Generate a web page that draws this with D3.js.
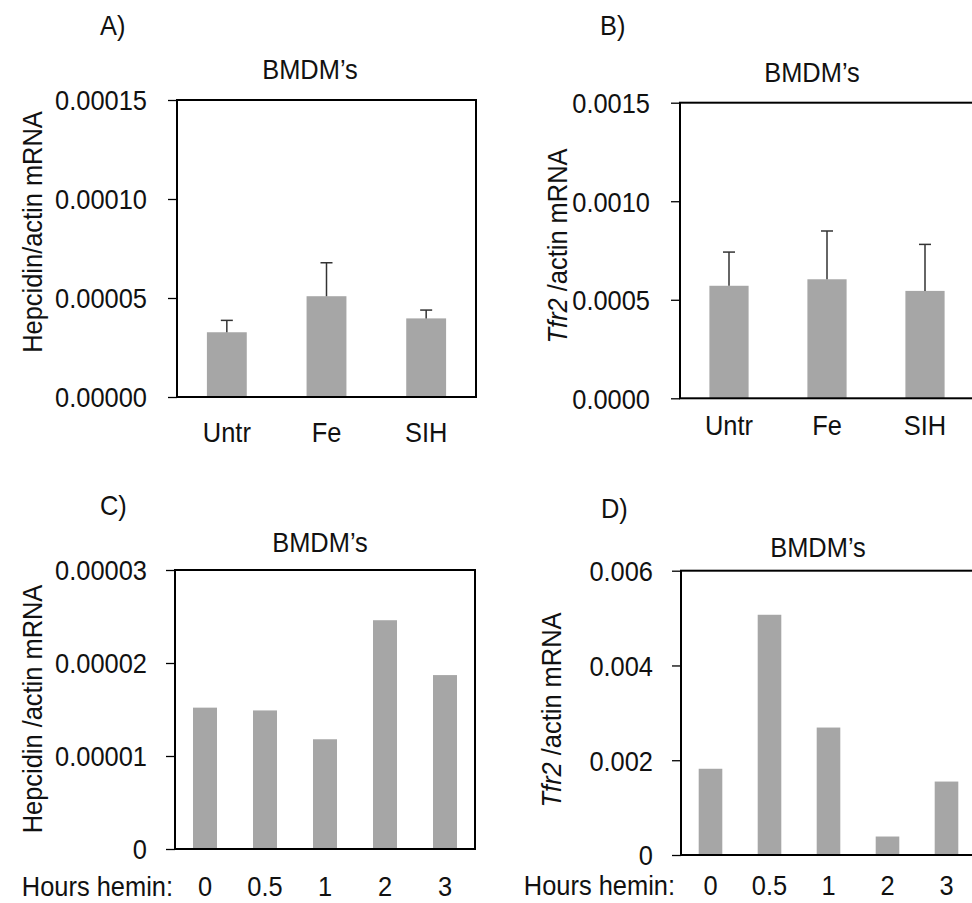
<!DOCTYPE html>
<html>
<head>
<meta charset="utf-8">
<script src="https://cdn.jsdelivr.net/npm/d3@7"></script>
<style>
  body { margin: 0; background: #fff; }
  svg { display: block; font-family: "Liberation Sans", Arial, sans-serif; }
  text { fill: #111; }
</style>
</head>
<body>
<svg id="fig" width="972" height="903"></svg>
<script>
// treatment panels (A, B)
const treatments = ["Untr", "Fe", "SIH"];
const hepcidinTreat = [0.0000327, 0.0000509, 0.0000397];
const hepcidinTreatErr = [0.0000060, 0.0000169, 0.0000042];
const tfr2Treat = [0.000571, 0.000604, 0.000545];
const tfr2TreatErr = [0.000171, 0.000245, 0.000236];

// hemin time course panels (C, D)
const hours = ["0", "0.5", "1", "2", "3"];
const hepcidinHemin = [0.0000152, 0.0000149, 0.0000118, 0.0000246, 0.0000187];
const tfr2Hemin = [0.00182, 0.00507, 0.00269, 0.00039, 0.00155];

// y tick values and labels
const ticksA = [0, 0.00005, 0.0001, 0.00015];
const tickLabelsA = ["0.00000", "0.00005", "0.00010", "0.00015"];
const ticksB = [0, 0.0005, 0.001, 0.0015];
const tickLabelsB = ["0.0000", "0.0005", "0.0010", "0.0015"];
const ticksC = [0, 0.00001, 0.00002, 0.00003];
const tickLabelsC = ["0", "0.00001", "0.00002", "0.00003"];
const ticksD = [0, 0.002, 0.004, 0.006];
const tickLabelsD = ["0", "0.002", "0.004", "0.006"];

const svg = d3.select("#fig");
const barColor = "#a6a6a6";
const fs = "27.5px";   // the figure uses a slightly narrow sans
const sx = 0.925;      // horizontal squeeze

// text placed at x,y, squeezed horizontally
function label(g, x, y, txt, anchor) {
    return g.append("text")
        .attr("transform", `translate(${x},${y}) scale(${sx},1)`)
        .attr("text-anchor", anchor || "start")
        .style("font-size", fs)
        .text(txt);
}

function drawPanel(p) {
    const g = svg.append("g");

    const x = d3.scaleBand()
        .domain(p.cats)
        .range([p.left, p.right])
        .paddingInner(0.6)
        .paddingOuter(0.3);

    const y = d3.scaleLinear()
        .domain([0, d3.max(p.ticks)])
        .range([p.bottom, p.top]);

    const rows = p.cats.map((c, i) => ({ cat: c, v: p.values[i], e: p.errs ? p.errs[i] : null }));

    // bars
    g.selectAll("rect.bar")
        .data(rows)
        .join("rect")
        .attr("class", "bar")
        .attr("x", d => x(d.cat))
        .attr("width", x.bandwidth())
        .attr("y", d => y(d.v))
        .attr("height", d => y(0) - y(d.v))
        .attr("fill", barColor);

    // upper error bars only
    if (p.errs) {
        const eb = g.selectAll("g.err")
            .data(rows)
            .join("g")
            .attr("class", "err")
            .attr("stroke", "#333")
            .attr("stroke-width", 1.5);
        eb.append("line")
            .attr("x1", d => x(d.cat) + x.bandwidth() / 2)
            .attr("x2", d => x(d.cat) + x.bandwidth() / 2)
            .attr("y1", d => y(d.v))
            .attr("y2", d => y(d.v + d.e));
        eb.append("line")
            .attr("x1", d => x(d.cat) + x.bandwidth() / 2 - 6)
            .attr("x2", d => x(d.cat) + x.bandwidth() / 2 + 6)
            .attr("y1", d => y(d.v + d.e))
            .attr("y2", d => y(d.v + d.e));
    }

    // frame
    g.append("rect")
        .attr("x", p.left)
        .attr("y", p.top)
        .attr("width", p.right - p.left)
        .attr("height", p.bottom - p.top)
        .attr("fill", "none")
        .attr("stroke", "#000")
        .attr("stroke-width", 2);

    // y axis
    const yAxis = g.append("g")
        .attr("transform", `translate(${p.left},0)`)
        .call(d3.axisLeft(y)
            .tickValues(p.ticks)
            .tickFormat((d, i) => p.tickLabels[i])
            .tickSize(9)
            .tickSizeOuter(0)
            .tickPadding(p.tickPad));
    yAxis.select(".domain").remove();
    yAxis.selectAll(".tick line").attr("stroke", "#000").attr("stroke-width", 1.3);
    yAxis.selectAll(".tick text")
        .attr("fill", "#111")
        .attr("x", -(9 + p.tickPad) / sx)
        .attr("transform", `scale(${sx},1)`)
        .attr("dy", "0.36em")
        .style("font-size", fs);

    // x labels
    const xAxis = g.append("g")
        .attr("transform", `translate(0,${p.bottom})`)
        .call(d3.axisBottom(x).tickSize(0).tickPadding(p.xPad));
    xAxis.select(".domain").remove();
    xAxis.selectAll(".tick text")
        .attr("fill", "#111")
        .attr("transform", `scale(${sx},1)`)
        .style("font-size", fs);

    if (p.xTitle) {
        label(g, p.xTitleX, p.xBase, p.xTitle, "end");
    }

    // y label
    const yl = g.append("text")
        .attr("transform", `translate(${p.yLabelX},${p.yLabelY}) rotate(-90) scale(${sx},1)`)
        .attr("text-anchor", "middle")
        .style("font-size", fs);
    if (p.italic) {
        yl.append("tspan").style("font-style", "italic").text(p.italic);
    }
    yl.append("tspan").text(p.yLabel);

    // title
    label(g, p.titleX, p.titleY, "BMDM\u2019s", "middle");

    // panel letter
    label(g, p.letterX, p.letterY, p.letter);
}

drawPanel({
    letter: "A)", letterX: 100, letterY: 35,
    cats: treatments, values: hepcidinTreat, errs: hepcidinTreatErr,
    ticks: ticksA, tickLabels: tickLabelsA, tickPad: 21,
    left: 177, right: 476, top: 100, bottom: 397, xPad: 25,
    yLabel: "Hepcidin/actin mRNA", yLabelX: 42, yLabelY: 232,
    titleX: 310, titleY: 79
});

drawPanel({
    letter: "B)", letterX: 600, letterY: 35,
    cats: treatments, values: tfr2Treat, errs: tfr2TreatErr,
    ticks: ticksB, tickLabels: tickLabelsB, tickPad: 21,
    left: 680, right: 974, top: 102.7, bottom: 398.3, xPad: 17,
    italic: "Tfr2", yLabel: " /actin mRNA", yLabelX: 567, yLabelY: 246,
    titleX: 812, titleY: 82
});

drawPanel({
    letter: "C)", letterX: 100, letterY: 515,
    cats: hours, values: hepcidinHemin,
    ticks: ticksC, tickLabels: tickLabelsC, tickPad: 19,
    left: 175, right: 475, top: 570, bottom: 849, xPad: 27, xBase: 896,
    xTitle: "Hours hemin:", xTitleX: 173,
    yLabel: "Hepcidin /actin mRNA", yLabelX: 42, yLabelY: 709,
    titleX: 320, titleY: 552
});

drawPanel({
    letter: "D)", letterX: 601, letterY: 518,
    cats: hours, values: tfr2Hemin,
    ticks: ticksD, tickLabels: tickLabelsD, tickPad: 19,
    left: 681, right: 976, top: 570.7, bottom: 855, xPad: 20, xBase: 895,
    xTitle: "Hours hemin:", xTitleX: 675,
    italic: "Tfr2", yLabel: " /actin mRNA", yLabelX: 561, yLabelY: 710,
    titleX: 818, titleY: 557
});
</script>
</body>
</html>
